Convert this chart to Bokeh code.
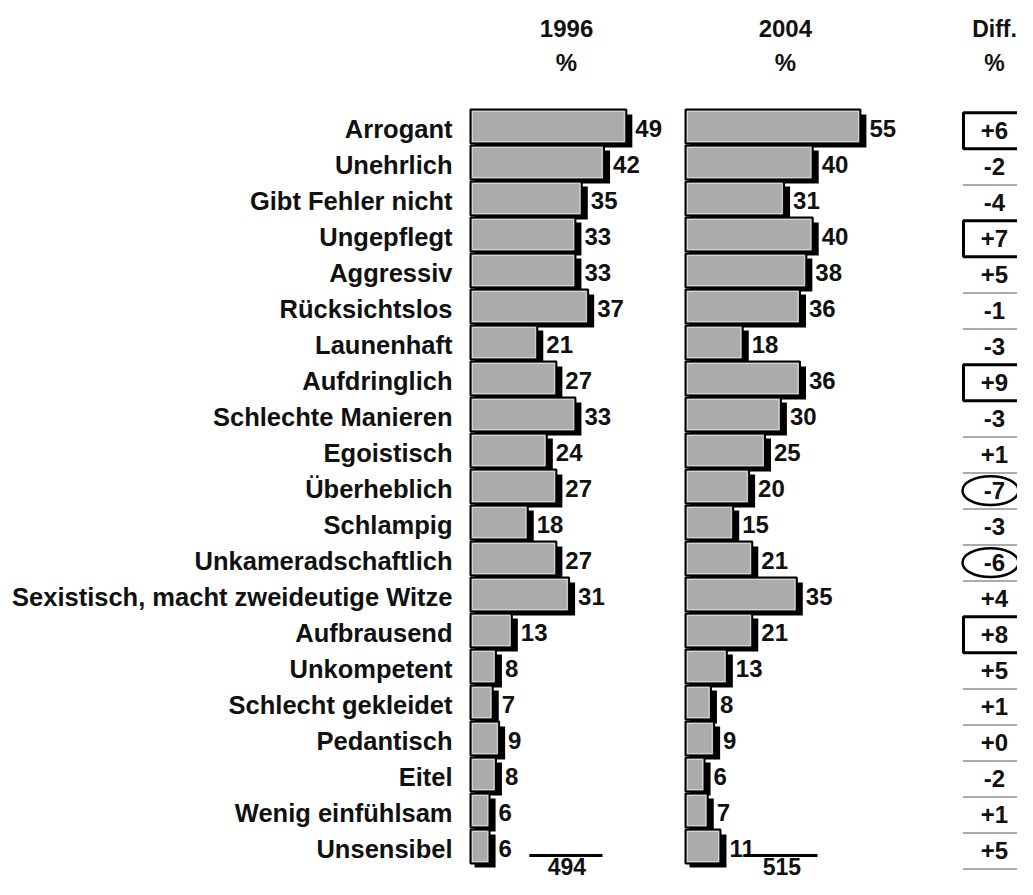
from bokeh.plotting import figure
from bokeh.models import Range1d, ColumnDataSource
from bokeh.core.properties import value
from bokeh.embed import file_html
from bokeh.resources import INLINE

# ---------------- data ----------------
categories = [
    "Arrogant", "Unehrlich", "Gibt Fehler nicht", "Ungepflegt", "Aggressiv",
    "Rücksichtslos", "Launenhaft", "Aufdringlich", "Schlechte Manieren",
    "Egoistisch", "Überheblich", "Schlampig", "Unkameradschaftlich",
    "Sexistisch, macht zweideutige Witze", "Aufbrausend", "Unkompetent",
    "Schlecht gekleidet", "Pedantisch", "Eitel", "Wenig einfühlsam", "Unsensibel",
]
v1996 = [49, 42, 35, 33, 33, 37, 21, 27, 33, 24, 27, 18, 27, 31, 13, 8, 7, 9, 8, 6, 6]
v2004 = [55, 40, 31, 40, 38, 36, 18, 36, 30, 25, 20, 15, 21, 35, 21, 13, 8, 9, 6, 7, 11]
diff = [6, -2, -4, 7, 5, -1, -3, 9, -3, 1, -7, -3, -6, 4, 8, 5, 1, 0, -2, 1, 5]
years = ["1996", "2004"]
totals = [494, 515]
diff_header = "Diff."
unit_label = "%"

# ---------------- layout ----------------
W, H = 1017, 879
PX = 3.18      # pixels per percent
ROW = 36.0     # pixels per row
Y0 = 128       # pixel y of first row centre
FONT = value("Liberation Sans")
INK = "#111111"


def ry(pix):
    """pixel row position -> row units"""
    return (pix - Y0) / ROW


x0 = -470 / PX
x0b = -685 / PX
p = figure(
    width=W, height=H,
    x_range=Range1d(x0, x0 + W / PX),
    y_range=Range1d(ry(H), ry(0)),
    output_backend="svg", toolbar_location=None,
    x_axis_location=None, y_axis_location=None,
    min_border=0, outline_line_color=None,
    background_fill_color="white", border_fill_color="white",
)
p.extra_x_ranges = {
    "y2004": Range1d(x0b, x0b + W / PX),
    "diff": Range1d(-994, W - 994),
}
p.xgrid.visible = False
p.ygrid.visible = False

rows = list(range(len(categories)))

# category labels
p.text(x=0, y=rows, text=categories, x_offset=-18, text_align="right",
       text_baseline="middle", text_font=FONT, text_font_style="bold",
       text_font_size="25.5px", text_color=INK)

# bar panels
panels = ((v1996, "default", years[0], totals[0], 30.2),
          (v2004, "y2004", years[1], totals[1], 31.4))
for vals, rname, year, tot, hx in panels:
    src = ColumnDataSource(dict(
        y=rows, v=vals, lbl=[str(v) for v in vals],
        top=[r - 19 / ROW for r in rows], bottom=[r + 15 / ROW for r in rows],
        stop=[r - 14 / ROW for r in rows], sbottom=[r + 19 / ROW for r in rows],
        sright=[v + 6 / PX for v in vals],
        itop=[r - 17 / ROW for r in rows], ibottom=[r + 13 / ROW for r in rows],
        iright=[v - 2 / PX for v in vals],
    ))
    p.quad(left=4 / PX, right="sright", top="stop", bottom="sbottom", source=src,
           fill_color="black", line_color=None, x_range_name=rname)
    p.quad(left=0, right="v", top="top", bottom="bottom", source=src,
           fill_color="#ababab", line_color="black", line_width=2,
           x_range_name=rname)
    p.quad(left=2 / PX, right="iright", top="itop", bottom="ibottom", source=src,
           fill_color=None, line_color="#d4d4d4", line_width=1,
           x_range_name=rname)
    p.text(x="v", y="y", text="lbl", source=src, x_offset=9,
           text_baseline="middle", text_font=FONT, text_font_style="bold",
           text_font_size="24px", text_color=INK, x_range_name=rname)
    # headers
    p.text(x=[hx, hx], y=[ry(28), ry(62)], text=[year, unit_label],
           text_align="center", text_baseline="middle", text_font=FONT,
           text_font_style="bold", text_font_size="24px", text_color=INK,
           x_range_name=rname)
    # total n
    p.segment(x0=18.5, x1=41.5, y0=ry(855), y1=ry(855),
              line_color="black", line_width=3, x_range_name=rname)
    p.text(x=[30.3], y=[ry(866)], text=[str(tot)], text_align="center",
           text_baseline="middle", text_font=FONT, text_font_style="bold",
           text_font_size="23px", text_color=INK, x_range_name=rname)

# diff column
p.text(x=[0, 0], y=[ry(28), ry(62)], text=[diff_header, unit_label],
       text_align="center", text_baseline="middle", text_font=FONT,
       text_font_style="bold", text_font_size="23px", text_color=INK,
       x_range_name="diff")

dy = [r + 0.06 for r in rows]
p.text(x=0, y=dy, text=[f"{d:+d}" for d in diff], text_align="center",
       text_baseline="middle", text_font=FONT, text_font_style="bold",
       text_font_size="24px", text_color=INK, x_range_name="diff")

boxed = [d >= 6 for d in diff]
circled = [d <= -6 for d in diff]
by = [y for y, b in zip(dy, boxed) if b]
p.quad(left=-31, right=40, top=[y - 0.5 for y in by], bottom=[y + 0.5 for y in by],
       fill_color=None, line_color="black", line_width=3, x_range_name="diff")
cy = [y for y, c in zip(dy, circled) if c]
p.ellipse(x=-4, y=cy, width=56, height=0.8, fill_color=None, line_color="black",
          line_width=2.5, x_range_name="diff")

dot_y = [rows[i] + 0.57 for i in rows
         if not boxed[i] and (i + 1 >= len(rows) or not boxed[i + 1])]
p.segment(x0=-31, x1=23, y0=dot_y, y1=dot_y, line_color="#222222",
          line_width=1.5, line_dash="1 1", x_range_name="diff")

open("out.html", "w").write(file_html(p, INLINE))
